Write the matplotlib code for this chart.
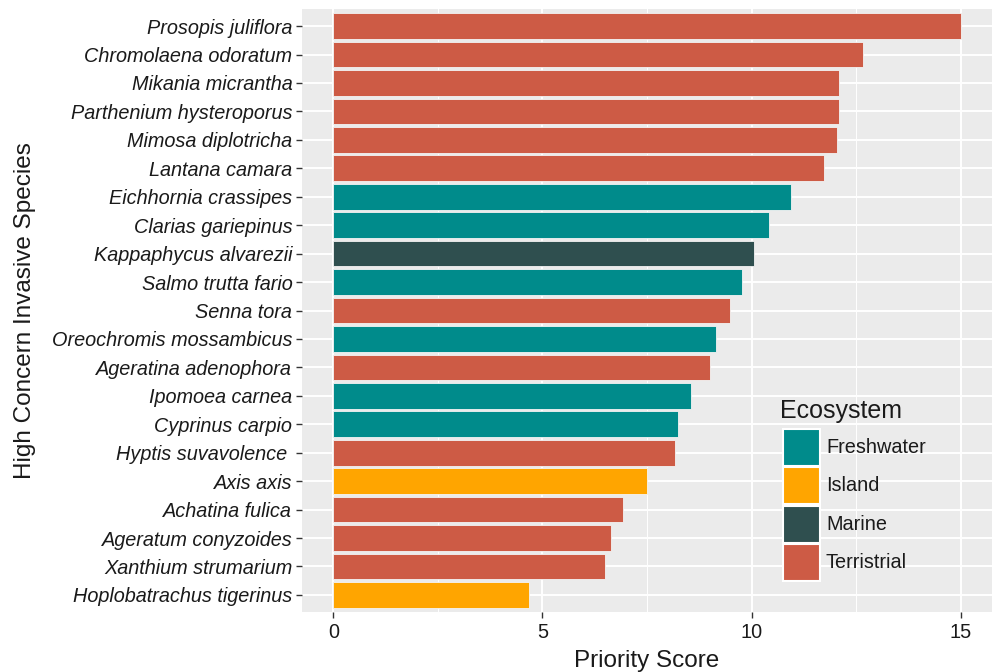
import numpy as np
import matplotlib.pyplot as plt
from matplotlib.patches import Rectangle
from matplotlib.ticker import MultipleLocator

plt.rcParams['font.family'] = ['Liberation Sans', 'DejaVu Sans']

# data, top to bottom as drawn
species = ['Prosopis juliflora', 'Chromolaena odoratum', 'Mikania micrantha',
           'Parthenium hysteroporus', 'Mimosa diplotricha', 'Lantana camara',
           'Eichhornia crassipes', 'Clarias gariepinus', 'Kappaphycus alvarezii',
           'Salmo trutta fario', 'Senna tora', 'Oreochromis mossambicus',
           'Ageratina adenophora', 'Ipomoea carnea', 'Cyprinus carpio',
           'Hyptis suvavolence ', 'Axis axis', 'Achatina fulica',
           'Ageratum conyzoides', 'Xanthium strumarium', 'Hoplobatrachus tigerinus']
scores = [15.0, 12.67, 12.09, 12.08, 12.04, 11.73,
          10.95, 10.41, 10.07, 9.77, 9.49, 9.15,
          9.0, 8.55, 8.23, 8.18, 7.51, 6.92,
          6.65, 6.49, 4.67]
ecosystem = ['Terristrial', 'Terristrial', 'Terristrial', 'Terristrial', 'Terristrial', 'Terristrial',
             'Freshwater', 'Freshwater', 'Marine', 'Freshwater', 'Terristrial', 'Freshwater',
             'Terristrial', 'Freshwater', 'Freshwater', 'Terristrial', 'Island', 'Terristrial',
             'Terristrial', 'Terristrial', 'Island']
eco_names = ['Freshwater', 'Island', 'Marine', 'Terristrial']
eco_colors = {'Freshwater': '#008B8B', 'Island': '#FFA500',
              'Marine': '#2F4F4F', 'Terristrial': '#CD5B45'}

W, H = 992, 672
fig = plt.figure(figsize=(W/100, H/100), dpi=100)
ax = fig.add_axes([302/W, 60/H, 690/W, 603/H])
ax.set_facecolor('#EBEBEB')

n = len(species)
ypos = np.arange(n)[::-1] + 1
ax.barh(ypos, scores, height=0.9,
        color=[eco_colors[e] for e in ecosystem],
        edgecolor='#F4F4F4', linewidth=0.6, zorder=3)

ax.set_xlim(-0.75, 15.75)
ax.set_ylim(0.4, n + 0.6)
ax.xaxis.set_major_locator(MultipleLocator(5))
ax.xaxis.set_minor_locator(MultipleLocator(2.5))
ax.set_yticks(ypos)
ax.set_yticklabels(species, fontsize=14.3, style='italic', color='#1a1a1a')
ax.tick_params(axis='x', labelsize=14.3, labelcolor='#1a1a1a', length=4,
               color='#333333', width=1, pad=4)
ax.tick_params(axis='y', length=4, color='#333333', width=1, pad=3)
ax.tick_params(axis='x', which='minor', length=0)

ax.grid(which='major', color='white', linewidth=1.4, zorder=0)
ax.grid(which='minor', axis='x', color='white', linewidth=0.7, zorder=0)
ax.set_axisbelow(True)
for s in ax.spines.values():
    s.set_visible(False)

ax.set_xlabel('Priority Score', fontsize=17.5, color='#1a1a1a', labelpad=6)
ax.set_ylabel('High Concern Invasive Species', fontsize=17.5, color='#1a1a1a', labelpad=11)

# legend drawn by hand (pixel positions of the ggplot guide)
fig.text(780/W, 1 - 411/H, 'Ecosystem', fontsize=18, color='#1a1a1a',
         ha='left', va='center')
for i, e in enumerate(eco_names):
    top = 429 + i * 38.3
    fig.add_artist(Rectangle((783/W, 1 - (top + 37)/H), 37/W, 37/H,
                             facecolor=eco_colors[e], edgecolor='white',
                             linewidth=1.5, transform=fig.transFigure))
    fig.text(826/W, 1 - (top + 18.5)/H, e, fontsize=14.3, color='#1a1a1a',
             ha='left', va='center')

fig.savefig('out.png', dpi=100)
